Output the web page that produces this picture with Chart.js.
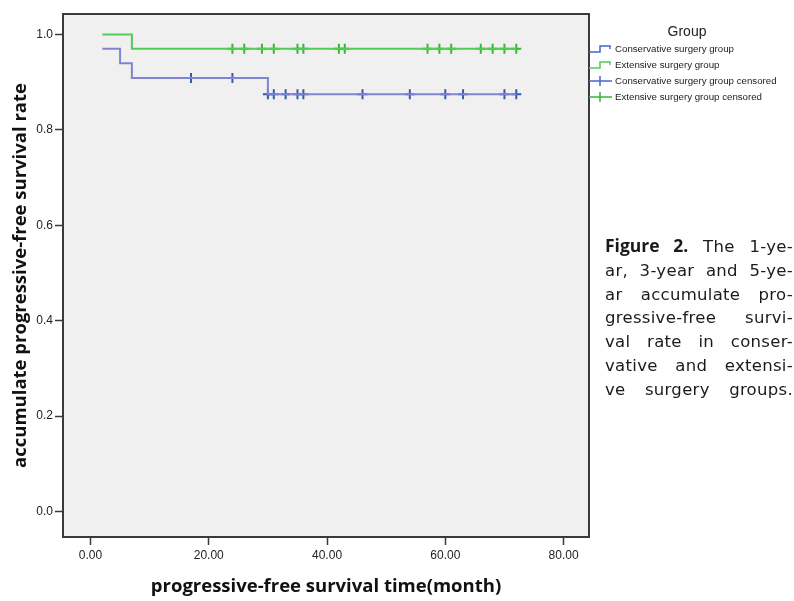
<!DOCTYPE html>
<html>
<head>
<meta charset="utf-8">
<script src="https://cdn.jsdelivr.net/npm/chart.js@4"></script>
<style>
  body { margin: 0; background: #fff; }
  #wrap { position: relative; width: 794px; height: 601px; }
  #caption {
    position: absolute; left: 605px; top: 234px; width: 188px;
    font-family: 'DejaVu Sans', sans-serif;
    font-size: 16.5px; letter-spacing: 0.3px; line-height: 23.8px; color: #1a1a1a;
  }
  #caption b { font-family: 'Open Sans', sans-serif; font-size: 17.5px; letter-spacing: 0; }
  #caption div { text-align: justify; text-align-last: justify; }
</style>
</head>
<body>
<div id="wrap">
  <canvas id="chart" width="794" height="601"></canvas>
  <div id="caption"></div>
</div>
<script>
// axis ticks
const xTicks = [0, 20, 40, 60, 80];
const yTicks = [0, 0.2, 0.4, 0.6, 0.8, 1.0];

// Kaplan-Meier steps (time in months, survival)
const consTime = [2, 5, 7, 30, 72];
const consSurv = [0.97, 0.94, 0.909, 0.875, 0.875];
const extTime = [2, 7, 72];
const extSurv = [1.0, 0.97, 0.97];

// censored times
const consCensor = [17, 24, 30, 31, 33, 35, 36, 46, 54, 60, 63, 70, 72];
const extCensor = [24, 26, 29, 31, 35, 36, 42, 43, 57, 59, 61, 66, 68, 70, 72];

const legendTitle = 'Group';
const legendLabels = [
  'Conservative surgery group',
  'Extensive surgery group',
  'Conservative surgery group censored',
  'Extensive surgery group censored'
];

const captionLines = [
  '<b>Figure 2.</b> The 1-ye-',
  'ar, 3-year and 5-ye-',
  'ar accumulate pro-',
  'gressive-free survi-',
  'val rate in conser-',
  'vative and extensi-',
  've surgery groups.'
];

const blueLine = '#8084d2';
const blueMark = '#3558b0';
const blueKey = '#4468cc';
const greenLine = '#52cc52';
const greenMark = '#34b834';

function survAt(times, surv, t) {
  let s = surv[0];
  times.forEach((tt, i) => { if (tt <= t) s = surv[i]; });
  return s;
}

document.getElementById('caption').innerHTML =
  captionLines.map(l => '<div>' + l + '</div>').join('');

const frame = {
  id: 'frame',
  beforeDraw(chart) {
    const { ctx, chartArea: a } = chart;
    ctx.save();
    ctx.fillStyle = '#f0f0f0';
    ctx.fillRect(a.left, a.top, a.right - a.left, a.bottom - a.top);
    ctx.restore();
  },
  afterDraw(chart) {
    const { ctx, chartArea: a } = chart;
    ctx.save();
    ctx.strokeStyle = '#3a3a3a';
    ctx.lineWidth = 2;
    ctx.strokeRect(a.left, a.top, a.right - a.left, a.bottom - a.top);
    ctx.restore();
  }
};

const keyBox = {
  id: 'keyBox',
  afterDraw(chart) {
    const ctx = chart.ctx;
    ctx.save();
    ctx.fillStyle = '#222';
    ctx.font = '14px "Liberation Sans", Arial, sans-serif';
    ctx.textAlign = 'center';
    ctx.textBaseline = 'middle';
    ctx.fillText(legendTitle, 687, 32);
    const cols = [blueKey, greenLine, blueKey, greenMark];
    legendLabels.forEach((lab, i) => {
      const y = 49 + i * 16;
      ctx.strokeStyle = cols[i];
      ctx.lineWidth = 1.5;
      ctx.beginPath();
      if (i < 2) {
        ctx.moveTo(589, y + 3); ctx.lineTo(600, y + 3);
        ctx.lineTo(600, y - 3); ctx.lineTo(610, y - 3); ctx.lineTo(610, y);
      } else {
        ctx.moveTo(589, y); ctx.lineTo(612, y);
        ctx.moveTo(600, y - 5); ctx.lineTo(600, y + 5);
      }
      ctx.stroke();
      ctx.fillStyle = '#222';
      ctx.font = '9.7px "Liberation Sans", Arial, sans-serif';
      ctx.textAlign = 'left';
      ctx.fillText(lab, 615, y);
    });
    ctx.restore();
  }
};

const tickFont = { family: '"Liberation Sans", Arial, sans-serif', size: 12 };
const titleFont = { family: '"Open Sans", sans-serif', size: 18.5, weight: 'bold' };

new Chart(document.getElementById('chart'), {
  type: 'line',
  data: {
    datasets: [
      {
        label: legendLabels[0],
        data: consTime.map((t, i) => ({ x: t, y: consSurv[i] })),
        borderColor: blueLine, borderWidth: 2, stepped: 'before', pointRadius: 0, fill: false
      },
      {
        label: legendLabels[1],
        data: extTime.map((t, i) => ({ x: t, y: extSurv[i] })),
        borderColor: greenLine, borderWidth: 2, stepped: 'before', pointRadius: 0, fill: false
      },
      {
        type: 'scatter',
        label: legendLabels[2],
        data: consCensor.map(t => ({ x: t, y: survAt(consTime, consSurv, t) })),
        pointStyle: 'cross', pointRadius: 5, borderColor: blueMark, borderWidth: 2, showLine: false
      },
      {
        type: 'scatter',
        label: legendLabels[3],
        data: extCensor.map(t => ({ x: t, y: survAt(extTime, extSurv, t) })),
        pointStyle: 'cross', pointRadius: 5, borderColor: greenMark, borderWidth: 2, showLine: false
      }
    ]
  },
  options: {
    responsive: false,
    animation: false,
    devicePixelRatio: 1,
    layout: { padding: { top: 14, right: 205, left: 0, bottom: 0 } },
    plugins: { legend: { display: false }, tooltip: { enabled: false } },
    scales: {
      x: {
        type: 'linear', min: -4.65, max: 84.3,
        afterBuildTicks: s => { s.ticks = xTicks.map(v => ({ value: v })); },
        afterFit: s => { s.height = 64; },
        ticks: { callback: v => v.toFixed(2), font: tickFont, color: '#222', padding: 3, maxRotation: 0 },
        grid: { drawOnChartArea: false, drawTicks: true, tickLength: 8, tickColor: '#3a3a3a', tickWidth: 1.5 },
        border: { display: false },
        title: { display: true, text: 'progressive-free survival time(month)', font: titleFont, color: '#111', padding: { top: 0, bottom: 3 } }
      },
      y: {
        type: 'linear', min: -0.0535, max: 1.043,
        afterBuildTicks: s => { s.ticks = yTicks.map(v => ({ value: v })); },
        afterFit: s => { s.width = 63; },
        ticks: { callback: v => v.toFixed(1), font: tickFont, color: '#222', padding: 2 },
        grid: { drawOnChartArea: false, drawTicks: true, tickLength: 8, tickColor: '#3a3a3a', tickWidth: 1.5 },
        border: { display: false },
        title: { display: true, text: 'accumulate progressive-free survival rate', font: titleFont, color: '#111', padding: { top: 10, bottom: 0 } }
      }
    }
  },
  plugins: [frame, keyBox]
});
</script>
</body>
</html>
